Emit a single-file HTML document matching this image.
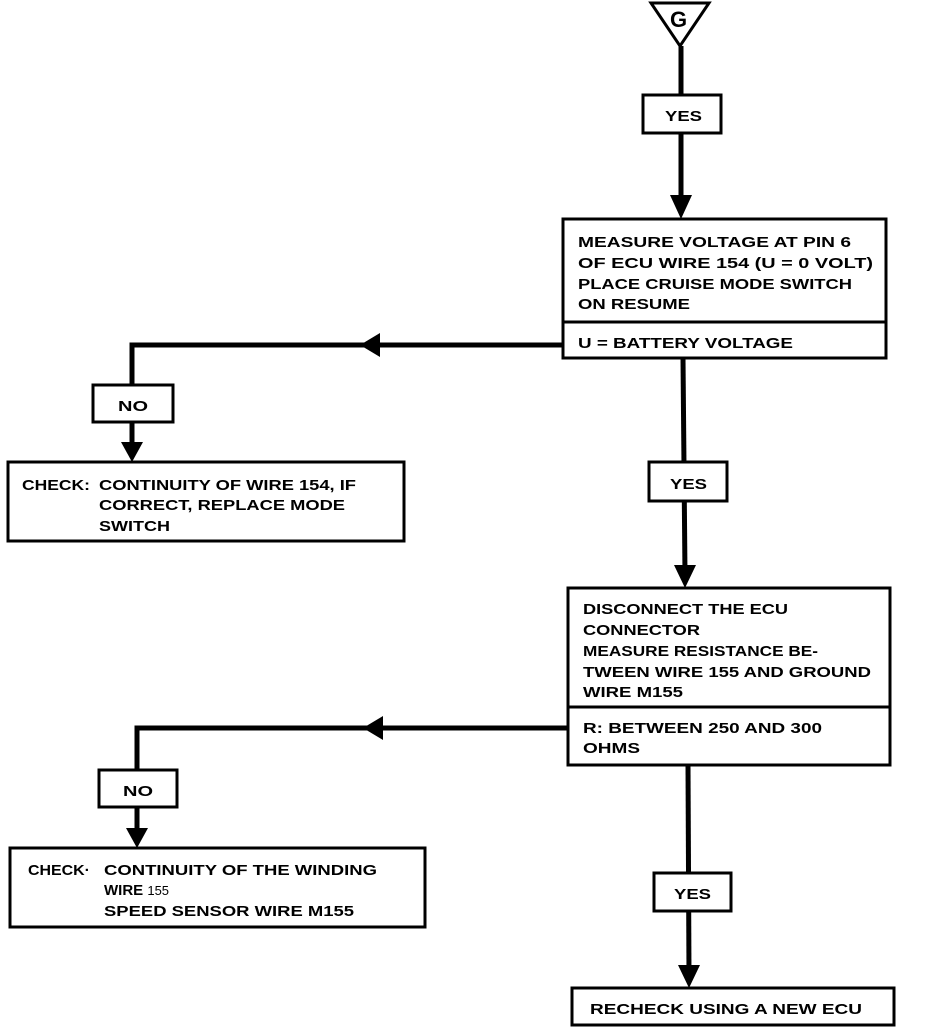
<!DOCTYPE html>
<html><head><style>
body{margin:0;background:#fff}
svg{display:block}
text{font-family:"Liberation Sans",sans-serif;font-weight:bold;font-size:15px;fill:#000}
</style></head><body>
<svg width="928" height="1028" viewBox="0 0 928 1028" xmlns="http://www.w3.org/2000/svg">
<g fill="none" stroke="#000">
<polygon points="651,3 709,3 680,46" stroke-width="3" fill="#fff"/>
<line x1="681" y1="46" x2="681" y2="200" stroke-width="5"/>
<rect x="643" y="95" width="78" height="38" stroke-width="3" fill="#fff"/>
<rect x="563" y="219" width="323" height="139" stroke-width="3"/>
<line x1="563" y1="322" x2="886" y2="322" stroke-width="3"/>
<polyline points="563,345 132,345 132,450" stroke-width="5"/>
<rect x="93" y="385" width="80" height="37" stroke-width="3" fill="#fff"/>
<rect x="8" y="462" width="396" height="79" stroke-width="3"/>
<line x1="683" y1="358" x2="685" y2="575" stroke-width="5"/>
<rect x="649" y="462" width="78" height="39" stroke-width="3" fill="#fff"/>
<rect x="568" y="588" width="322" height="177" stroke-width="3"/>
<line x1="568" y1="707" x2="890" y2="707" stroke-width="3"/>
<polyline points="568,728 137,728 137,835" stroke-width="5"/>
<rect x="99" y="770" width="78" height="37" stroke-width="3" fill="#fff"/>
<rect x="10" y="848" width="415" height="79" stroke-width="3"/>
<line x1="688" y1="765" x2="689" y2="975" stroke-width="5"/>
<rect x="654" y="873" width="77" height="38" stroke-width="3" fill="#fff"/>
<rect x="572" y="988" width="322" height="37" stroke-width="3"/>
</g>
<g fill="#000">
<polygon points="670,195 692,195 681,219"/>
<polygon points="360,345 380,333 380,357"/>
<polygon points="121,442 143,442 132,462"/>
<polygon points="674,565 696,565 685,588"/>
<polygon points="363,728 383,716 383,740"/>
<polygon points="126,828 148,828 137,848"/>
<polygon points="678,965 700,965 689,988"/>
</g>
<text x="670" y="27" style="font-size:22px">G</text>
<text x="665" y="121" textLength="37" lengthAdjust="spacingAndGlyphs">YES</text>
<text x="578" y="247" textLength="273" lengthAdjust="spacingAndGlyphs">MEASURE VOLTAGE AT PIN 6</text>
<text x="578" y="268" textLength="295" lengthAdjust="spacingAndGlyphs">OF ECU WIRE 154 (U = 0 VOLT)</text>
<text x="578" y="289" textLength="274" lengthAdjust="spacingAndGlyphs">PLACE CRUISE MODE SWITCH</text>
<text x="578" y="309" textLength="112" lengthAdjust="spacingAndGlyphs">ON RESUME</text>
<text x="578" y="348" textLength="215" lengthAdjust="spacingAndGlyphs">U = BATTERY VOLTAGE</text>
<text x="118" y="411" textLength="30" lengthAdjust="spacingAndGlyphs">NO</text>
<text x="22" y="490" textLength="68" lengthAdjust="spacingAndGlyphs">CHECK:</text>
<text x="99" y="490" textLength="257" lengthAdjust="spacingAndGlyphs">CONTINUITY OF WIRE 154, IF</text>
<text x="99" y="510" textLength="246" lengthAdjust="spacingAndGlyphs">CORRECT, REPLACE MODE</text>
<text x="99" y="531" textLength="71" lengthAdjust="spacingAndGlyphs">SWITCH</text>
<text x="670" y="489" textLength="37" lengthAdjust="spacingAndGlyphs">YES</text>
<text x="583" y="614" textLength="205" lengthAdjust="spacingAndGlyphs">DISCONNECT THE ECU</text>
<text x="583" y="635" textLength="117" lengthAdjust="spacingAndGlyphs">CONNECTOR</text>
<text x="583" y="656" textLength="235" lengthAdjust="spacingAndGlyphs">MEASURE RESISTANCE BE-</text>
<text x="583" y="677" textLength="288" lengthAdjust="spacingAndGlyphs">TWEEN WIRE 155 AND GROUND</text>
<text x="583" y="697" textLength="100" lengthAdjust="spacingAndGlyphs">WIRE M155</text>
<text x="583" y="733" textLength="239" lengthAdjust="spacingAndGlyphs">R: BETWEEN 250 AND 300</text>
<text x="583" y="753" textLength="57" lengthAdjust="spacingAndGlyphs">OHMS</text>
<text x="123" y="796" textLength="30" lengthAdjust="spacingAndGlyphs">NO</text>
<text x="28" y="875" textLength="62" lengthAdjust="spacingAndGlyphs">CHECK·</text>
<text x="104" y="875" textLength="273" lengthAdjust="spacingAndGlyphs">CONTINUITY OF THE WINDING</text>
<text x="104" y="895">WIRE <tspan style="font-size:13px;font-weight:normal">155</tspan></text>
<text x="104" y="916" textLength="250" lengthAdjust="spacingAndGlyphs">SPEED SENSOR WIRE M155</text>
<text x="674" y="899" textLength="37" lengthAdjust="spacingAndGlyphs">YES</text>
<text x="590" y="1014" textLength="272" lengthAdjust="spacingAndGlyphs">RECHECK USING A NEW ECU</text>
</svg>
</body></html>
